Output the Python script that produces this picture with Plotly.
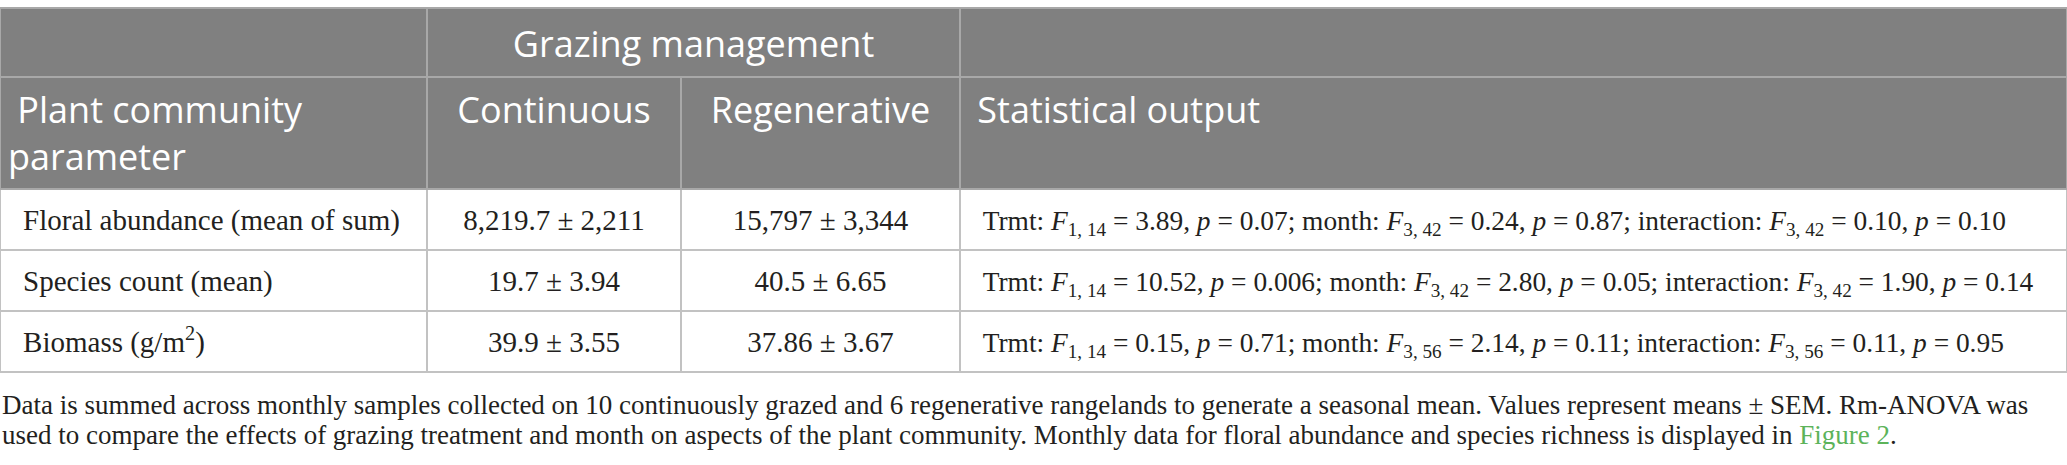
import plotly.graph_objects as go

# ---------------- data ----------------
group_header = ["", "Grazing management", ""]
col_headers = ["Plant community<br>parameter", "Continuous", "Regenerative", "Statistical output"]

parameters = ["Floral abundance (mean of sum)", "Species count (mean)", "Biomass (g/m<sup>2</sup>)"]
cont_mean = ["8,219.7", "19.7", "39.9"]
cont_sem = ["2,211", "3.94", "3.55"]
regen_mean = ["15,797", "40.5", "37.86"]
regen_sem = ["3,344", "6.65", "3.67"]

trmt_df = ["1, 14", "1, 14", "1, 14"]
trmt_F = ["3.89", "10.52", "0.15"]
trmt_p = ["0.07", "0.006", "0.71"]
month_df = ["3, 42", "3, 42", "3, 56"]
month_F = ["0.24", "2.80", "2.14"]
month_p = ["0.87", "0.05", "0.11"]
int_df = ["3, 42", "3, 42", "3, 56"]
int_F = ["0.10", "1.90", "0.11"]
int_p = ["0.10", "0.14", "0.95"]

caption_lines = [
    "Data is summed across monthly samples collected on 10 continuously grazed and 6 regenerative rangelands to generate a seasonal mean. "
    "Values represent means \u00b1 SEM. Rm-ANOVA was",
    "used to compare the effects of grazing treatment and month on aspects of the plant community. "
    "Monthly data for floral abundance and species richness is displayed in "
    "<span style='color:#5cb35a'>Figure 2</span>.",
]

# ---------------- styling ----------------
W, H = 2067, 465
col_widths = [427, 254, 279, 1107]
SANS = "Open Sans"
SERIF = "Liberation Serif"
TXT = "#231f20"
HEAD_FILL = "#808080"
HEAD_LINE = "#a8a8a8"
BODY_LINE = "#c2c2c2"
NB = "\u00a0"
# tall invisible spacers push the first baseline down inside a cell
STRUT = "<span style='font-size:37px'>\u00a0</span>"
HSTRUT = "<span style='font-size:38px'>\u00a0</span>"


def ypx(p):
    return 1 - p / H


def head(t, indent=False):
    return "<span>" + (NB if indent else "") + t + "</span>"


def group_head(t):
    # trailing <br> keeps plotly from re-wrapping the styled text
    return HSTRUT + t + HSTRUT + "<br>" if t else t


def body(t, indent=False):
    # trailing <br> marks the text as user-broken so plotly does not re-wrap it
    if indent:
        return STRUT + "\u2009" + t + "<br>"
    return STRUT + t + STRUT + "<br>"


def stat_text(i):
    return (f"Trmt: <i>F</i><sub>{trmt_df[i]}</sub> = {trmt_F[i]}, <i>p</i> = {trmt_p[i]}; "
            f"month: <i>F</i><sub>{month_df[i]}</sub> = {month_F[i]}, <i>p</i> = {month_p[i]}; "
            f"interaction: <i>F</i><sub>{int_df[i]}</sub> = {int_F[i]}, <i>p</i> = {int_p[i]}")


col1 = [body(p, True) for p in parameters]
col2 = [body(f"{m} \u00b1 {s}") for m, s in zip(cont_mean, cont_sem)]
col3 = [body(f"{m} \u00b1 {s}") for m, s in zip(regen_mean, regen_sem)]
col4 = [body(stat_text(i), True) for i in range(len(parameters))]

fig = go.Figure()

# top (merged) header row
fig.add_trace(go.Table(
    domain=dict(x=[0, 1], y=[ypx(80), ypx(8)]),
    columnwidth=[col_widths[0], col_widths[1] + col_widths[2], col_widths[3]],
    header=dict(
        values=[group_head(v) for v in group_header],
        fill_color=HEAD_FILL,
        line=dict(color=HEAD_LINE, width=2),
        font=dict(family=SANS, size=36, color="white"),
        align="center",
        height=69,
    ),
    cells=dict(
        values=[[""], [""], [""]],
        fill_color="rgba(0,0,0,0)",
        line=dict(color="rgba(0,0,0,0)", width=0),
        height=1,
    ),
))

# main table
fig.add_trace(go.Table(
    domain=dict(x=[0, 1], y=[ypx(385), ypx(77)]),
    columnwidth=col_widths,
    header=dict(
        values=[head(col_headers[0], True), head(col_headers[1]), head(col_headers[2]),
                head(col_headers[3], True)],
        fill_color=HEAD_FILL,
        line=dict(color=HEAD_LINE, width=2),
        font=dict(family=SANS, size=36, color="white"),
        align=["left", "center", "center", "left"],
        height=110,
    ),
    cells=dict(
        values=[col1, col2, col3, col4],
        fill_color="white",
        line=dict(color=BODY_LINE, width=2),
        font=dict(family=SERIF, size=[29, 29, 29, 27.4], color=TXT),
        align=["left", "center", "center", "left"],
        height=61,
    ),
))

caption_y = [405, 435]
for line, yy in zip(caption_lines, caption_y):
    fig.add_annotation(
        x=0, y=ypx(yy), xref="paper", yref="paper",
        xanchor="left", yanchor="middle", align="left",
        text=line, showarrow=False,
        font=dict(family=SERIF, size=27, color=TXT),
    )

fig.update_layout(
    width=W, height=H,
    margin=dict(l=0, r=0, t=0, b=0),
    paper_bgcolor="white", plot_bgcolor="white",
)

fig.write_html("out.html", config={"displayModeBar": False},
               post_script="document.body.style.margin='0';")
